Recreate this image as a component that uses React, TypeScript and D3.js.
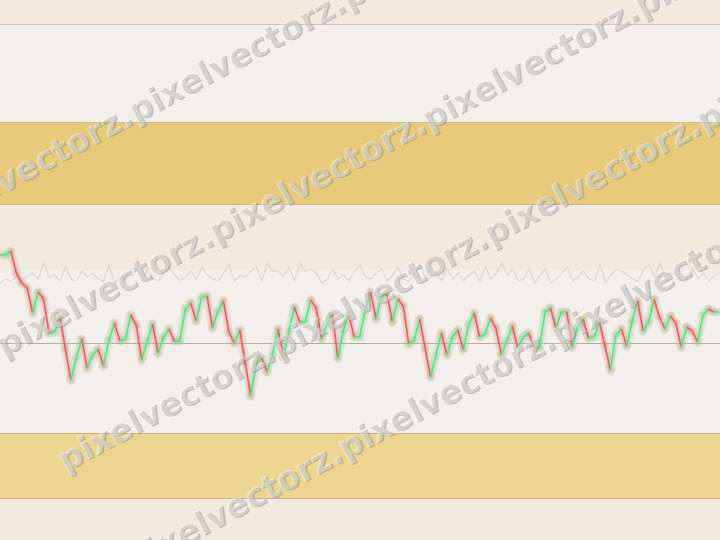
import React from "react";
import * as d3 from "d3";

const W = 720;
const H = 540;

// main oscillator values (0 = centre line)
const mainValues = [88, 88, 92, 70, 60, 55, 30, 51, 44, 10, 11, 26, -6, -37, -15, 4, -25, -12, -6, -23, 3, 20, 2, 4, 28, 18, -17, 1, 19, -10, 6, 14, 2, 2, 34, 40, 22, 46, 47, 15, 32, 42, 11, 0, 13, -20, -53, -22, -15, -29, -12, 14, -14, 11, 36, 21, 21, 43, 35, 4, 19, 28, -15, 13, 28, 6, 6, 33, 51, 24, 46, 49, 21, 44, 37, -1, 3, 24, -5, -34, -12, 10, -12, 6, 13, -7, 18, 30, 6, 9, 25, 15, -12, 2, 17, -5, 6, 10, -5, -5, 31, 35, 15, 31, 31, -4, 16, 24, 5, 6, 21, -3, -27, 8, 14, -3, 22, 42, 12, 21, 44, 26, 14, 27, 20, -4, 16, 12, 1, 28, 34, 31, 31];

// faint background series
const ghostValues = [60, 64, 62, 66, 63, 67, 70, 64, 80, 66, 68, 62, 76, 64, 62, 72, 66, 70, 64, 62, 78, 60, 66, 64, 72, 76, 62, 74, 64, 62, 70, 76, 68, 62, 66, 72, 64, 76, 68, 64, 62, 70, 78, 62, 68, 66, 72, 76, 62, 80, 72, 72, 66, 76, 62, 80, 72, 74, 70, 60, 64, 74, 64, 68, 62, 72, 78, 66, 64, 70, 74, 62, 68, 76, 64, 62, 70, 78, 64, 66, 70, 62, 74, 64, 70, 62, 68, 72, 62, 76, 64, 70, 80, 68, 74, 62, 64, 74, 60, 68, 74, 60, 64, 70, 76, 62, 66, 72, 64, 62, 78, 60, 68, 74, 72, 68, 64, 62, 74, 78, 66, 80, 64, 70, 68, 62, 66, 74, 64, 70, 62, 68, 70];

// horizontal zones (value levels, top to bottom)
const zoneLevels = [319, 221, 139, 73, -90, -155];
const zoneNames = ["upper", "overbought", "buffer", "signal", "oversold"];
const centreLevel = 0;

// watermark
const watermarkText = "pixelvectorz.";
const watermarkAnchors = [
  [135, 123],
  [3, 357],
  [65, 472],
  [345, 460],
];
const watermarkWords = [
  [-1, 0, 1],
  [0, 1, 2, 3],
  [0, 1, 2, 3],
  [-1, 0, 1],
];

export default function App() {
  const x = d3.scaleLinear().domain([0, mainValues.length - 1]).range([0, 719.4]);
  const xg = d3.scaleLinear().domain([0, ghostValues.length - 1]).range([0, W]);
  const y = d3.scaleLinear().domain([-60, 100]).range([403, 243]);

  const zoneFill: Record<string, string> = {
    upper: "#f3f0eb",
    overbought: "#e8cb7a",
    buffer: "#f2eadf",
    signal: "#f3f0eb",
    oversold: "#ecd591",
  };
  const zoneLine = ["#c9c3ba", "#c8bb98", "#c7b88c", null, "#cbb276", "#cdb583"];

  const segs = mainValues.slice(1).map((v, i) => ({
    x1: x(i),
    y1: y(mainValues[i]),
    x2: x(i + 1),
    y2: y(v),
    up: v >= mainValues[i],
  }));

  const ghostLine = d3
    .line<number>()
    .x((_, i) => xg(i))
    .y((d) => y(d))(ghostValues) as string;

  const angle = 28;
  const wordLen = 241;
  const dx = wordLen * Math.cos((angle * Math.PI) / 180);
  const dy = -wordLen * Math.sin((angle * Math.PI) / 180);

  const words: { x: number; y: number; key: string }[] = [];
  watermarkAnchors.forEach(([ax, ay], r) => {
    watermarkWords[r].forEach((k) => {
      words.push({ x: ax + k * dx, y: ay + k * dy, key: r + "_" + k });
    });
  });

  return (
    <svg width={W} height={H} style={{ position: "absolute", left: 0, top: 0, display: "block" }}>
      <rect x={0} y={0} width={W} height={H} fill="#f2eadf" />
      {zoneNames.map((n, i) => (
        <rect key={n} x={0} y={y(zoneLevels[i])} width={W} height={y(zoneLevels[i + 1]) - y(zoneLevels[i])} fill={zoneFill[n]} />
      ))}
      {zoneLevels.map((l, i) =>
        zoneLine[i] ? (
          <line key={i} x1={0} x2={W} y1={Math.round(y(l)) + 0.5} y2={Math.round(y(l)) + 0.5} stroke={zoneLine[i] as string} strokeWidth={1} />
        ) : null
      )}
      <line x1={0} x2={W} y1={y(centreLevel) + 0.5} y2={y(centreLevel) + 0.5} stroke="#b5aea6" strokeWidth={1} />
      <path d={ghostLine} fill="none" stroke="#dcd6ce" strokeWidth={1.3} />
      <g strokeLinecap="round">
        {segs.map((s, i) => (
          <line key={"h" + i} x1={s.x1} y1={s.y1} x2={s.x2} y2={s.y2} stroke="rgb(190,180,150)" strokeOpacity={0.22} strokeWidth={9} />
        ))}
        {segs.map((s, i) => (
          <line key={"g" + i} x1={s.x1} y1={s.y1} x2={s.x2} y2={s.y2} stroke={s.up ? "#7fe8a0" : "#f08a94"} strokeOpacity={0.25} strokeWidth={5} />
        ))}
        {segs.map((s, i) => (
          <line key={"m" + i} x1={s.x1} y1={s.y1} x2={s.x2} y2={s.y2} stroke={s.up ? "#4fe485" : "#ee5964"} strokeWidth={1.6} strokeLinecap="butt" />
        ))}
      </g>
      <g fontFamily="'DejaVu Sans', Verdana, sans-serif" fontSize={33} fontWeight={700}>
        {words.map((w) => (
          <g key={w.key} transform={`translate(${w.x},${w.y}) rotate(${-angle})`}>
            <text x={1.2} y={1.4} fill="#8f8c87" fillOpacity={0.55} textLength={wordLen} lengthAdjust="spacing">
              {watermarkText}
            </text>
            <text x={0} y={0} fill="#ffffff" fillOpacity={0.4} textLength={wordLen} lengthAdjust="spacing">
              {watermarkText}
            </text>
          </g>
        ))}
      </g>
    </svg>
  );
}
